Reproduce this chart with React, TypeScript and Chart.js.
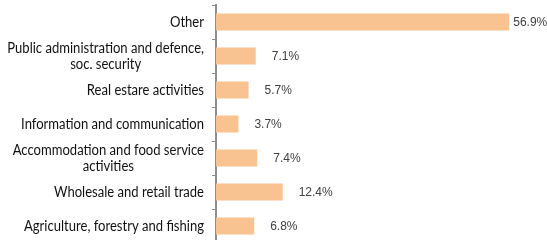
import React, { useEffect, useRef } from 'react';
import { Chart, registerables } from 'chart.js';

Chart.register(...registerables);

const categories: string[][] = [
  ['Other'],
  ['Public administration and defence,', 'soc. security'],
  ['Real estare activities'],
  ['Information and communication'],
  ['Accommodation and food service', 'activities'],
  ['Wholesale and retail trade'],
  ['Agriculture, forestry and fishing'],
];
const shares: number[] = [56.9, 7.1, 5.7, 3.7, 7.4, 12.4, 6.8];
const valueLabels: string[] = shares.map((v) => v.toFixed(1) + '%');
const axisMin = -0.7;
const axisMax = 60;

const CAT_FONT = '14.5px Lato, "Noto Sans", sans-serif';
const CAT_SCALE_X = 0.9;
const VAL_FONT = '12px "Liberation Sans Narrow", "Liberation Sans", Arial, sans-serif';

const labelPlugin = {
  id: 'customLabels',
  afterDatasetsDraw(chart: any) {
    const ctx = chart.ctx as CanvasRenderingContext2D;
    const meta = chart.getDatasetMeta(0);
    const yScale = chart.scales.y;
    ctx.save();
    ctx.font = CAT_FONT;
    ctx.fillStyle = '#111111';
    ctx.textBaseline = 'middle';
    ctx.textAlign = 'center';
    categories.forEach((lines, i) => {
      const yc = yScale.getPixelForValue(i);
      const w = Math.max(...lines.map((l) => ctx.measureText(l).width)) * CAT_SCALE_X;
      const cx = chart.chartArea.left - 12 - w / 2;
      lines.forEach((l, j) => {
        ctx.save();
        ctx.translate(cx, yc + (j - (lines.length - 1) / 2) * 16);
        ctx.scale(CAT_SCALE_X, 1);
        ctx.fillText(l, 0, 0);
        ctx.restore();
      });
    });
    ctx.font = VAL_FONT;
    ctx.fillStyle = '#404040';
    ctx.textAlign = 'left';
    meta.data.forEach((bar: any, i: number) => {
      const t = valueLabels[i];
      const w = ctx.measureText(t).width;
      let x = bar.x + 16;
      if (x + w > chart.width - 2) x = bar.x + 4;
      ctx.fillText(t, x, bar.y + 1);
    });
    ctx.restore();
  },
};

export default function App() {
  const ref = useRef<HTMLCanvasElement | null>(null);
  useEffect(() => {
    if (!ref.current) return;
    const chart = new Chart(ref.current, {
      type: 'bar',
      data: {
        labels: categories,
        datasets: [
          {
            data: shares,
            base: axisMin,
            backgroundColor: '#F8C291',
            borderWidth: 0,
            barPercentage: 1,
            categoryPercentage: 0.5,
          } as any,
        ],
      },
      options: {
        indexAxis: 'y',
        responsive: false,
        animation: false,
        devicePixelRatio: 1,
        layout: { padding: { top: 5, bottom: 7, left: 0, right: 22 } },
        plugins: { legend: { display: false }, tooltip: { enabled: false } },
        scales: {
          x: { display: false, min: axisMin, max: axisMax },
          y: {
            afterFit: (scale: any) => {
              scale.width = 216;
            },
            ticks: { display: false },
            grid: {
              display: true,
              drawOnChartArea: false,
              drawTicks: true,
              tickLength: 4,
              offset: true,
              color: '#8c8c8c',
              lineWidth: 1,
            },
            border: { display: true, color: '#8c8c8c', width: 2 },
          },
        },
      },
      plugins: [labelPlugin],
    });
    return () => chart.destroy();
  }, []);
  return (
    <div style={{ position: 'absolute', left: 0, top: 0, width: 547, height: 250 }}>
      <canvas ref={ref} width={547} height={250} style={{ width: 547, height: 250 }} />
    </div>
  );
}
